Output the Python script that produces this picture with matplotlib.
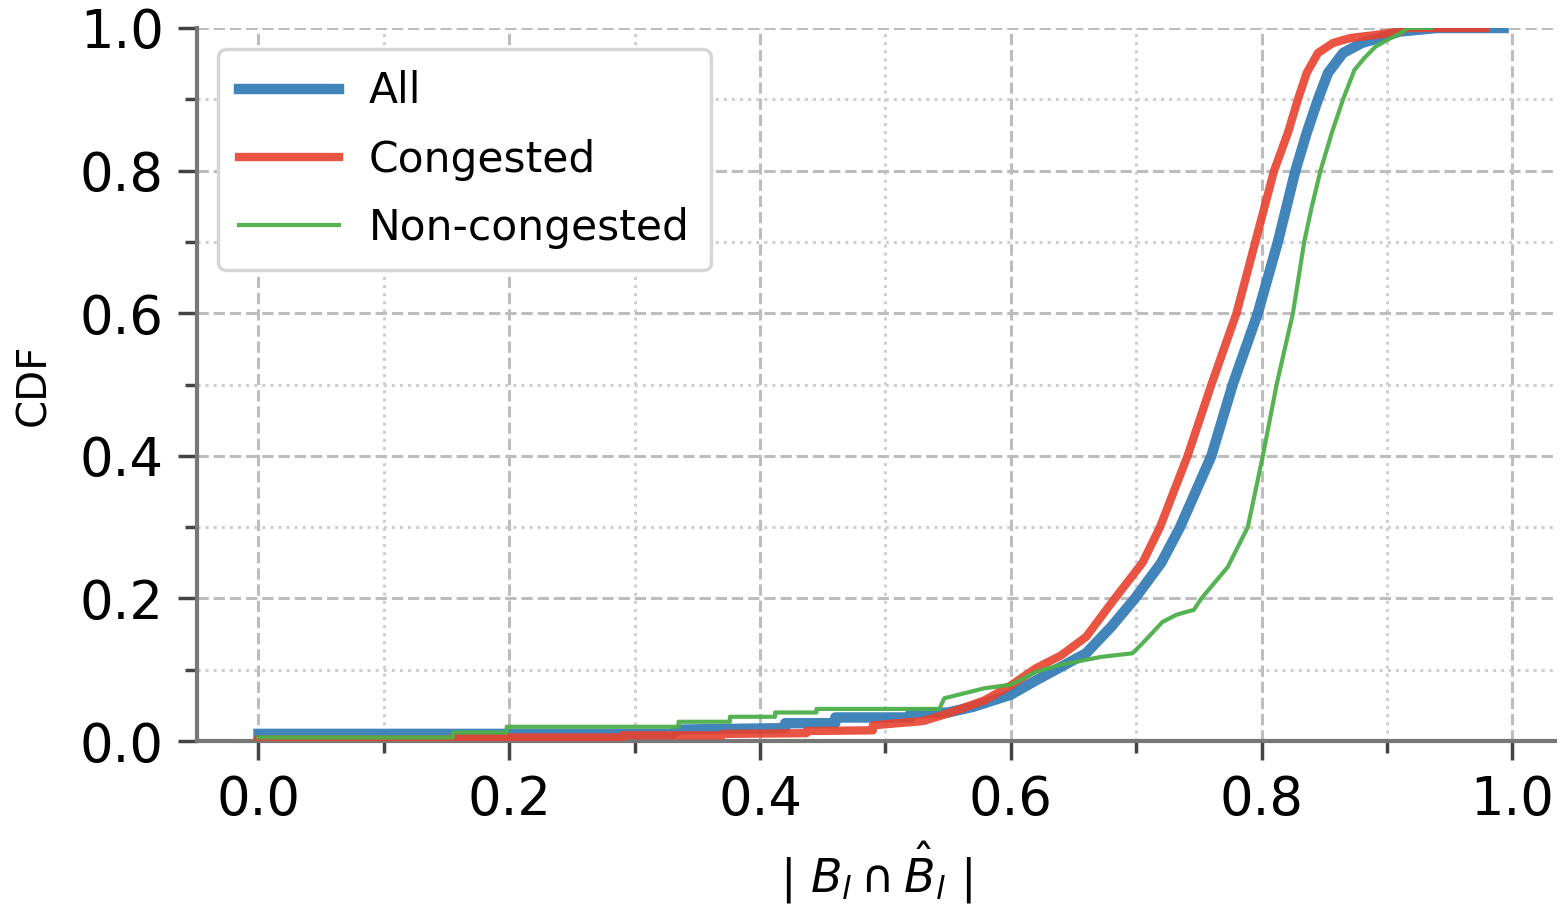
import matplotlib
matplotlib.use("Agg")
import matplotlib.pyplot as plt
from matplotlib.ticker import MultipleLocator

labels = ["All", "Congested", "Non-congested"]

all_x = [0.0, 0.33, 0.335, 0.42, 0.42, 0.46, 0.46, 0.52, 0.52, 0.55, 0.57, 0.60, 0.62,
         0.64, 0.66, 0.68, 0.699, 0.72, 0.735, 0.76, 0.777, 0.797, 0.813, 0.827, 0.836,
         0.845, 0.853, 0.865, 0.880, 0.894, 0.91, 0.94, 0.993]
all_y = [0.010, 0.010, 0.016, 0.018, 0.025, 0.025, 0.033, 0.033, 0.039, 0.040, 0.048,
         0.065, 0.085, 0.104, 0.123, 0.16, 0.20, 0.25, 0.30, 0.40, 0.50, 0.60, 0.70, 0.80,
         0.853, 0.90, 0.937, 0.965, 0.979, 0.986, 0.995, 1.0, 1.0]

cong_x = [0.0, 0.155, 0.155, 0.29, 0.29, 0.37, 0.37, 0.437, 0.437, 0.49, 0.49, 0.53,
          0.547, 0.579, 0.60, 0.62, 0.64, 0.66, 0.683, 0.705, 0.719, 0.741, 0.760, 0.780,
          0.795, 0.810, 0.821, 0.829, 0.836, 0.845, 0.857, 0.871, 0.89, 0.91, 0.915, 0.978]
cong_y = [0.002, 0.002, 0.005, 0.005, 0.008, 0.008, 0.010, 0.011, 0.014, 0.015, 0.022,
          0.028, 0.037, 0.057, 0.078, 0.102, 0.12, 0.146, 0.20, 0.25, 0.30, 0.40, 0.50,
          0.60, 0.70, 0.80, 0.853, 0.90, 0.937, 0.965, 0.979, 0.986, 0.99, 0.995, 1.0, 1.0]

non_x = [0.0, 0.155, 0.155, 0.198, 0.198, 0.335, 0.335, 0.376, 0.376, 0.412, 0.412,
         0.445, 0.445, 0.543, 0.547, 0.579, 0.60, 0.62, 0.64, 0.672, 0.697, 0.705, 0.721,
         0.732, 0.746, 0.752, 0.773, 0.789, 0.801, 0.812, 0.825, 0.834, 0.840, 0.847,
         0.856, 0.865, 0.874, 0.882, 0.891, 0.90, 0.911, 0.917, 0.935]
non_y = [0.005, 0.005, 0.012, 0.012, 0.020, 0.020, 0.027, 0.027, 0.034, 0.034, 0.040,
         0.040, 0.045, 0.045, 0.06, 0.074, 0.079, 0.097, 0.107, 0.118, 0.123, 0.137, 0.167,
         0.177, 0.184, 0.20, 0.244, 0.30, 0.40, 0.50, 0.60, 0.70, 0.749, 0.80, 0.853, 0.90,
         0.941, 0.958, 0.974, 0.983, 0.993, 1.0, 1.0]

x_ticks = [0.0, 0.2, 0.4, 0.6, 0.8, 1.0]
y_ticks = [0.0, 0.2, 0.4, 0.6, 0.8, 1.0]

# ---- figure ----
fig = plt.figure(figsize=(15.65, 9.09), dpi=100)
ax = fig.add_axes([0.1259, 0.1848, 0.8677, 0.7844])

ax.plot(all_x, all_y, color="#377eb8", lw=7.5, alpha=0.95, label=labels[0], zorder=3)
ax.plot(cong_x, cong_y, color="#e8412e", lw=6, alpha=0.9, label=labels[1], zorder=4)
ax.plot(non_x, non_y, color="#4daf4a", lw=3, alpha=0.95, label=labels[2], zorder=5)

ax.set_xlim(-0.049, 1.034)
ax.set_ylim(0.0, 1.0)
ax.set_xticks(x_ticks)
ax.set_yticks(y_ticks)
ax.xaxis.set_minor_locator(MultipleLocator(0.1))
ax.yaxis.set_minor_locator(MultipleLocator(0.1))
ax.set_xticklabels([f"{v:.1f}" for v in x_ticks])
ax.set_yticklabels([f"{v:.1f}" for v in y_ticks])

ax.grid(which="major", color="#bdbdbd", linestyle="--", linewidth=2.2, zorder=0)
ax.grid(which="minor", color="#cfcfcf", linestyle=":", linewidth=2.2, zorder=0)

for s in ["top", "right"]:
    ax.spines[s].set_visible(False)
for s in ["left", "bottom"]:
    ax.spines[s].set_color("#777777")
    ax.spines[s].set_linewidth(3)

ax.tick_params(which="major", length=14, width=2.5, color="#444444",
               labelsize=38, pad=10)
ax.tick_params(which="minor", length=8.5, width=2.5, color="#444444")

ax.set_ylabel("CDF", fontsize=29, labelpad=18)
ax.set_xlabel(r"$|\ B_l \cap \hat{B}_l\ |$", fontsize=33, labelpad=10)

leg = ax.legend(loc="upper left", fontsize=30.5, handlelength=2.35,
                handletextpad=0.7, labelspacing=0.62, borderpad=0.5,
                framealpha=1.0, edgecolor="#d6d6d6", fancybox=True)
leg.get_frame().set_linewidth(2.5)

fig.savefig("out.png", dpi=100)
